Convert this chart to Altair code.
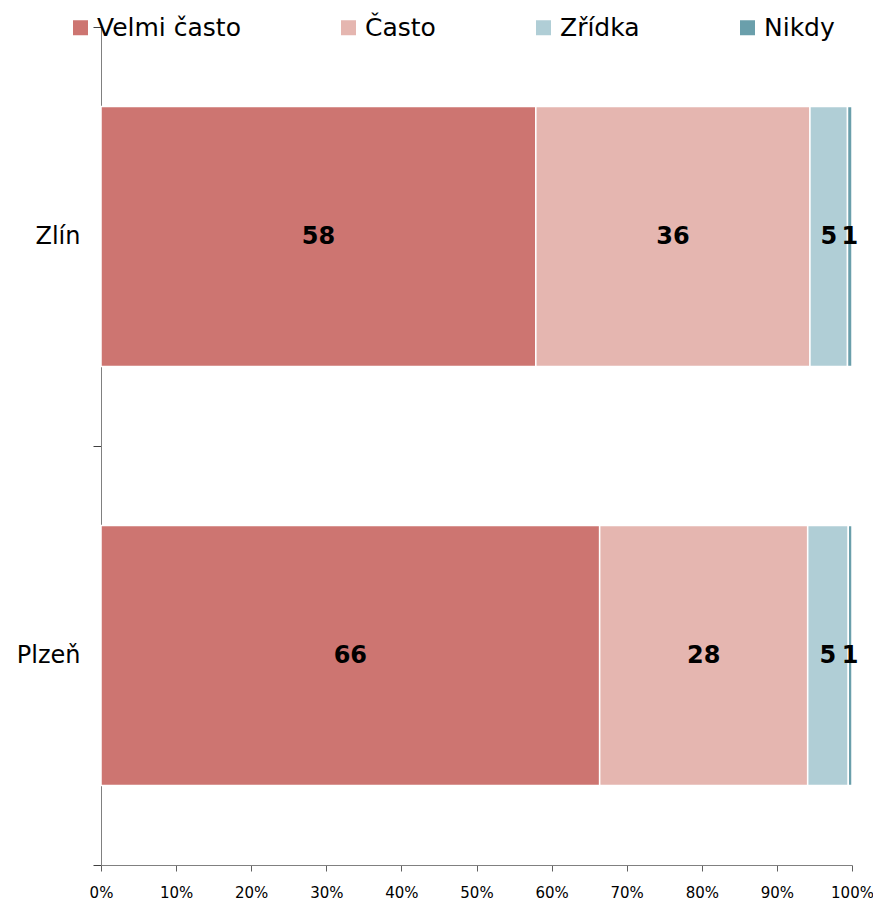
import altair as alt
import pandas as pd

cities = ["Zlín", "Plzeň"]
categories = ["Velmi často", "Často", "Zřídka", "Nikdy"]
colors = ["#CD7571", "#E5B6B0", "#B0CED6", "#6A9FAB"]
zlin_values = [57.9, 36.5, 5.0, 0.6]
plzen_values = [66.4, 27.7, 5.4, 0.5]
zlin_labels = ["58", "36", "5", "1"]
plzen_labels = ["66", "28", "5", "1"]
x_ticks = [0, 0.1, 0.2, 0.3, 0.4, 0.5, 0.6, 0.7, 0.8, 0.9, 1.0]

rows = []
for city, vals, labs in [(cities[0], zlin_values, zlin_labels),
                         (cities[1], plzen_values, plzen_labels)]:
    for i, (cat, v, lab) in enumerate(zip(categories, vals, labs)):
        rows.append({"city": city, "cat": cat, "order": i, "value": v, "label": lab})
df = pd.DataFrame(rows)

FONT = "DejaVu Sans"

base = alt.Chart(df).transform_stack(
    stack="value",
    groupby=["city"],
    sort=[alt.SortField(field="order", order="ascending")],
    as_=["v0", "v1"],
    offset="normalize",
).transform_calculate(mid="(datum.v0 + datum.v1) / 2")

y_enc = alt.Y(
    "city:N",
    sort=cities,
    title=None,
    scale=alt.Scale(paddingInner=0, paddingOuter=0),
    axis=alt.Axis(
        tickBand="extent",
        labelFont=FONT,
        labelFontSize=24,
        labelColor="black",
        tickSize=8,
        labelPadding=13,
        domainColor="#808080",
        tickColor="#404040",
        grid=False,
    ),
)

bars = base.mark_bar(
    stroke="white", strokeWidth=1.5, height=alt.RelativeBandSize(0.62)
).encode(
    x=alt.X(
        "v0:Q",
        title=None,
        scale=alt.Scale(domain=[0, 1], nice=False),
        axis=alt.Axis(
            format=".0%",
            values=x_ticks,
            labelFont=FONT,
            labelFontSize=15,
            labelColor="black",
            labelFlush=False,
            labelOverlap=False,
            tickSize=6,
            labelPadding=14,
            domainColor="#808080",
            tickColor="#606060",
            grid=False,
        ),
    ),
    x2="v1:Q",
    y=y_enc,
    color=alt.Color(
        "cat:N",
        scale=alt.Scale(domain=categories, range=colors),
        legend=alt.Legend(
            title=None,
            orient="none",
            legendX=-33,
            legendY=-12,
            direction="horizontal",
            columns=4,
            symbolType="square",
            symbolSize=225,
            symbolStrokeWidth=0,
            labelFont=FONT,
            labelFontSize=25,
            labelColor="black",
            labelOffset=4,
            columnPadding=95,
            padding=0,
            labelLimit=400,
        ),
    ),
)

text = base.mark_text(
    font=FONT, fontSize=24, fontWeight="bold", color="black"
).encode(
    x=alt.X("mid:Q"),
    y=y_enc,
    text="label:N",
)

chart = alt.layer(bars, text).properties(
    width=751,
    height=838,
    autosize="none",
    padding={"left": 93, "top": 19, "right": 21, "bottom": 38},
).configure_view(stroke=None)

chart.save("out.html", embed_options={"renderer": "svg", "actions": False})
